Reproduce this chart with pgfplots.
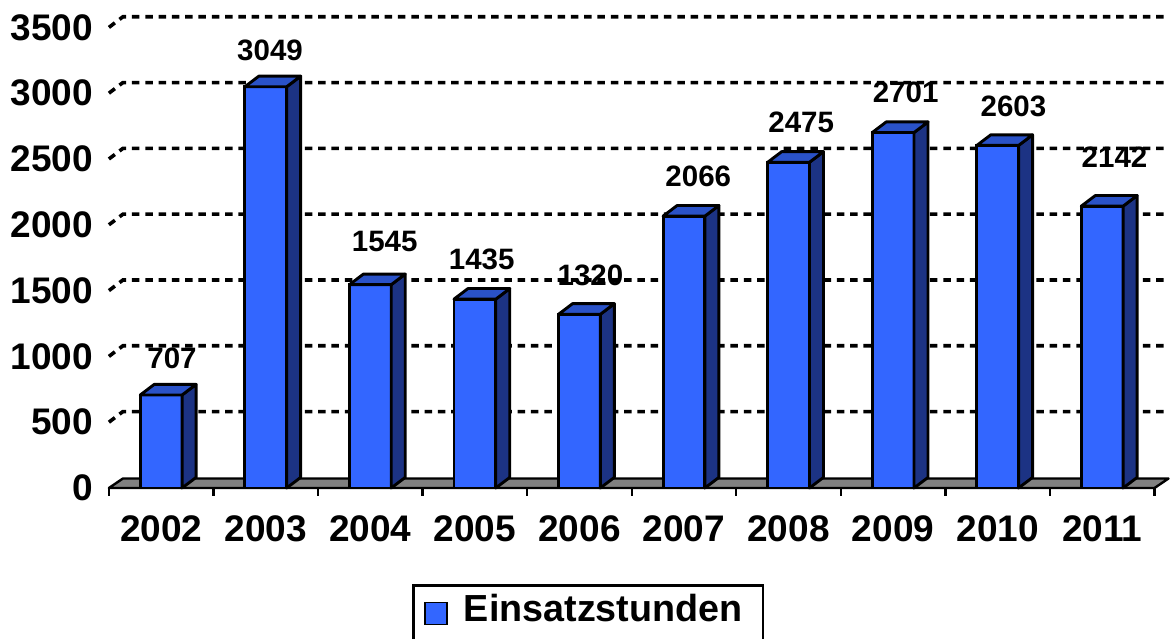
\documentclass[border=0pt]{standalone}
\usepackage{fontspec}
\setmainfont{Liberation Sans}
\usepackage{pgfplots}
\pgfplotsset{compat=1.18}
\usepackage{pgfplotstable}
\definecolor{frontcol}{HTML}{3366FF}
\definecolor{sidecol}{HTML}{1C3384}
\definecolor{topcol}{HTML}{2A52C8}
\definecolor{floorcol}{HTML}{808080}
% year index, value, label x offset (pt), label y offset (pt)
\pgfplotstableread{
x  y     xo    yo
0  707   10.8  36.7
1  3049  4.3   36.4
2  1545  14.4  42.7
3  1435  6.8   39.9
4  1320  11.0  39.3
5  2066  14.3  39.4
6  2475  12.6  40.0
7  2701  12.5  40.0
8  2603  15.8  39.3
9  2142  12.3  48.7
}\datatable
\begin{document}
\begin{tikzpicture}
\useasboundingbox (0,0) rectangle (1173pt,639pt);
\begin{axis}[
  anchor=origin, at={(161.2pt,151pt)},
  x=104.56pt, y=0.1316pt,
  xmin=-0.5, xmax=9.5, ymin=0, ymax=3500,
  clip=false,
  axis x line*=bottom, axis y line*=left,
  axis line style={draw=none},
  xtick={0,...,9},
  xticklabels={2002,2003,2004,2005,2006,2007,2008,2009,2010,2011},
  minor xtick={-0.5,0.5,...,9.5},
  ytick={0,500,...,3500},
  major tick length=0pt, minor tick length=8pt, tick align=outside,
  minor tick style={black, line width=2.4pt},
  major tick style={draw=none},
  /pgf/number format/assume math mode=true,
  /pgf/number format/1000 sep={},
  ticklabel style={font=\fontsize{37}{40}\selectfont\bfseries},
  xticklabel style={anchor=base, inner sep=0pt, yshift=-53.7pt},
  yticklabel style={anchor=east, inner sep=0pt, xshift=-15.6pt},
  legend style={at={(axis description cs:0.2899,-0.2084)}, anchor=north west,
    draw=black, line width=2.6pt, fill=white,
    inner xsep=11pt, inner ysep=9pt,
    nodes={inner sep=0pt},
    column sep=16pt, row sep=40pt,
    font=\fontsize{37.7}{40}\selectfont\bfseries},
  legend image code/.code={\draw[fill=frontcol, draw=black, line width=1.6pt] (0pt,-16pt) rectangle (22pt,6pt);},
]
% floor
\filldraw[fill=floorcol, draw=black, line width=2.4pt, line join=round]
  (axis cs:-0.5,0) -- (axis cs:9.5,0) -- ++(14pt,9.5pt)
  -- ([shift={(14pt,9.5pt)}]axis cs:-0.5,0) -- cycle;
% back-wall gridlines
\pgfplotsinvokeforeach{500,1000,...,3500}{
  \draw[black, line width=3.6pt, dash pattern=on 7.5pt off 5.8pt]
    (axis cs:-0.5,#1) -- ++(14pt,10.6pt)
    -- ([shift={(14pt,10.6pt)}]axis cs:9.5,#1);
}
% front faces
\addplot[ybar, bar width=0.40, fill=frontcol, draw=black, line width=2.9pt]
  table[x=x, y=y] {\datatable};
\addlegendentry{\makebox[288pt][l]{Einsatzstunden}}
\addlegendimage{empty legend}
\addlegendentry{}
% side and top faces
\addplot[forget plot, only marks, mark=*, mark size=0.01pt, scatter,
  visualization depends on={\thisrow{y} \as \rawy},
  scatter/@pre marker code/.code={%
    \pgfmathsetmacro\barh{\rawy*0.1316}%
    \filldraw[fill=sidecol, draw=black, line width=2.9pt, line join=round]
      (20.9pt,0pt) -- (34.9pt,10.6pt) -- (34.9pt,10.6pt-\barh pt) -- (20.9pt,-\barh pt) -- cycle;
    \filldraw[fill=topcol, draw=black, line width=2.9pt, line join=round]
      (-20.9pt,0pt) -- (20.9pt,0pt) -- (34.9pt,10.6pt) -- (-6.9pt,10.6pt) -- cycle;
    \pgfsetfillcolor{black}\pgfsetstrokecolor{black}%
  },
  scatter/@post marker code/.code={},
] table[x=x, y=y] {\datatable};
% value labels
\addplot[forget plot, only marks, mark=none,
  visualization depends on={\thisrow{xo} \as \xo},
  visualization depends on={\thisrow{yo} \as \yo},
  point meta=explicit,
  nodes near coords,
  every node near coord/.append style={anchor=center, inner sep=0pt,
    xshift=\xo pt, yshift=\yo pt, font=\fontsize{29.5}{32}\selectfont\bfseries, text=black},
] table[x=x, y=y, meta=y] {\datatable};
\end{axis}
\end{tikzpicture}
\end{document}
